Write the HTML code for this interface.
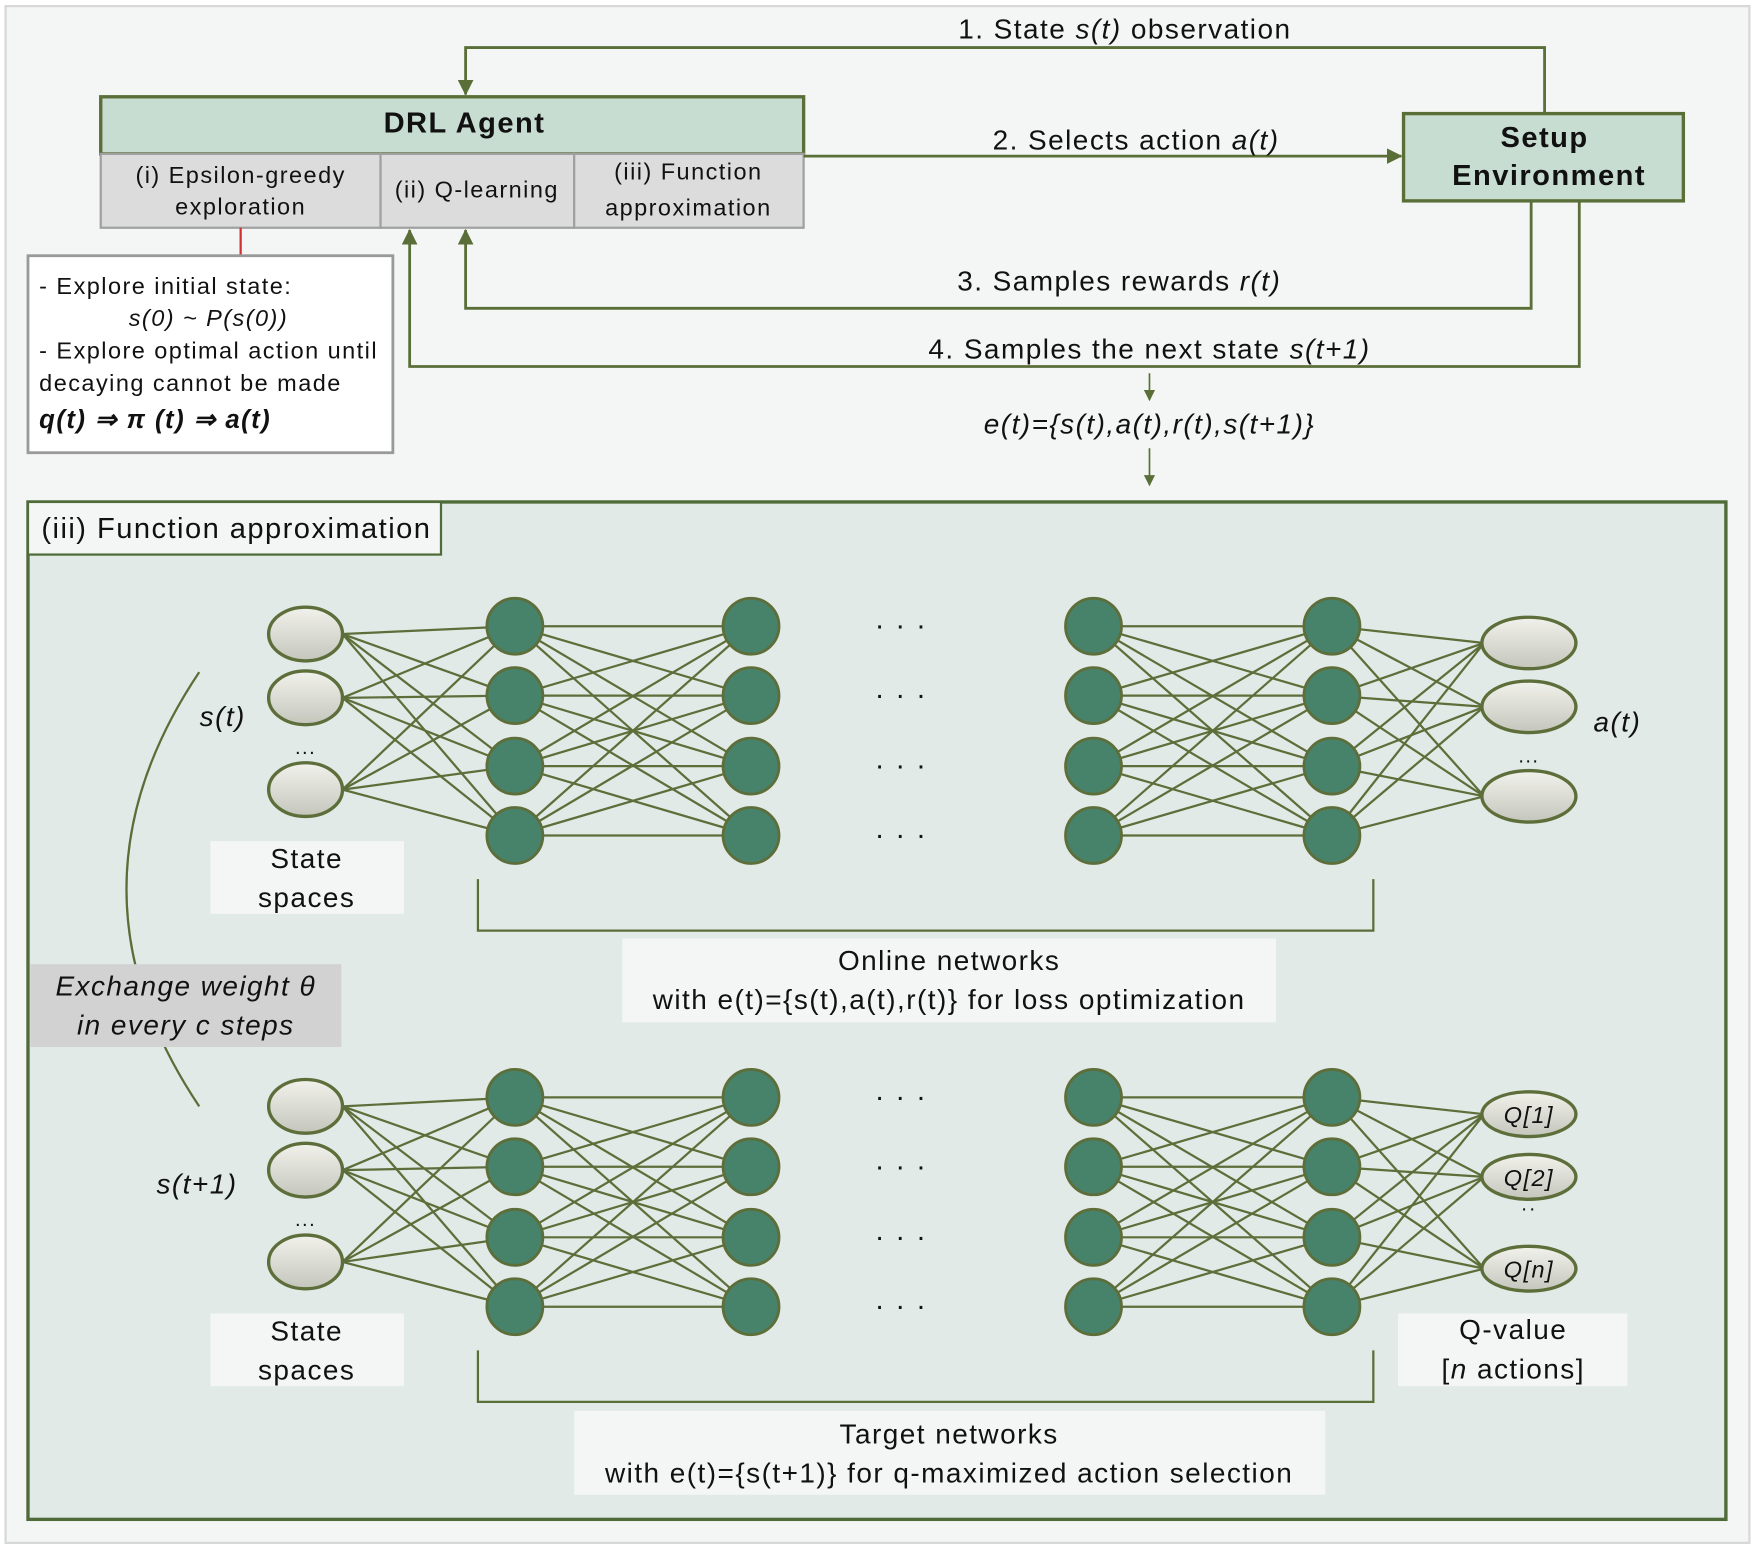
<!DOCTYPE html>
<html><head><meta charset="utf-8"><style>
html,body{margin:0;padding:0;background:#fff}
svg{display:block}
text{font-family:"Liberation Sans",sans-serif;fill:#111;letter-spacing:1.3px}
.i{font-style:italic}
</style></head><body>
<svg id="s" width="1755" height="1549" viewBox="0 0 1568 1383" xmlns="http://www.w3.org/2000/svg">
<defs>
<marker id="ar" markerWidth="10" markerHeight="10" refX="9" refY="5" orient="auto" markerUnits="userSpaceOnUse" viewBox="0 0 10 10"><path d="M0,0 L10,5 L0,10 z" fill="#5a6e38"/></marker>
<marker id="ar2" markerWidth="14" markerHeight="14" refX="13" refY="7" orient="auto" markerUnits="userSpaceOnUse" viewBox="0 0 14 14"><path d="M0,0 L14,7 L0,14 z" fill="#5a6e38"/></marker>
<linearGradient id="eg" x1="0" y1="0" x2="0" y2="1"><stop offset="0" stop-color="#f2f2ec"/><stop offset="1" stop-color="#c4c6bc"/></linearGradient>
</defs>
<rect x="0" y="0" width="1568" height="1383" fill="#fff"/>
<rect x="5" y="5" width="1558" height="1373" fill="#f4f6f5" stroke="#d8d8d8" stroke-width="2"/>
<rect x="90" y="86" width="628" height="51" fill="#c7ddd1" stroke="#5a6e38" stroke-width="3"/>
<text x="415" y="118" font-size="26" font-weight="bold" text-anchor="middle">DRL Agent</text>
<rect x="90" y="137" width="250" height="66" fill="#dcdcdc" stroke="#a0a0a0" stroke-width="2"/>
<rect x="340" y="137" width="173" height="66" fill="#dcdcdc" stroke="#a0a0a0" stroke-width="2"/>
<rect x="513" y="137" width="205" height="66" fill="#dcdcdc" stroke="#a0a0a0" stroke-width="2"/>
<text x="215" y="163" font-size="21" text-anchor="middle">(i) Epsilon-greedy</text>
<text x="215" y="191" font-size="21" text-anchor="middle">exploration</text>
<text x="426" y="176" font-size="21" text-anchor="middle">(ii) Q-learning</text>
<text x="615" y="160" font-size="21" text-anchor="middle">(iii) Function</text>
<text x="615" y="192" font-size="21" text-anchor="middle">approximation</text>
<rect x="1254" y="101" width="250" height="78" fill="#c7ddd1" stroke="#5a6e38" stroke-width="3"/>
<text x="1380" y="131" font-size="26" font-weight="bold" text-anchor="middle">Setup</text>
<text x="1384" y="165" font-size="26" font-weight="bold" text-anchor="middle">Environment</text>
<g stroke="#5a6e38" stroke-width="2.5" fill="none">
<path d="M1380,101 V42 H416 V84" marker-end="url(#ar2)"/>
<path d="M718,139 H1252" marker-end="url(#ar2)"/>
<path d="M1368,179 V275 H416 V205" marker-end="url(#ar2)"/>
<path d="M1411,179 V327 H366 V205" marker-end="url(#ar2)"/>
<path d="M1027,333 V357" stroke-width="1.5" marker-end="url(#ar)"/>
<path d="M1027,400 V433" stroke-width="1.5" marker-end="url(#ar)"/>
</g>
<text x="1005" y="34" font-size="25" text-anchor="middle">1. State <tspan class="i">s(t)</tspan> observation</text>
<text x="1015" y="133" font-size="25" text-anchor="middle">2. Selects action <tspan class="i">a(t)</tspan></text>
<text x="1000" y="259" font-size="25" text-anchor="middle">3. Samples rewards <tspan class="i">r(t)</tspan></text>
<text x="1027" y="320" font-size="25" text-anchor="middle">4. Samples the next state <tspan class="i">s(t+1)</tspan></text>
<text x="1027" y="387" font-size="25" class="i" text-anchor="middle">e(t)={s(t),a(t),r(t),s(t+1)}</text>
<line x1="215" y1="203" x2="215" y2="228" stroke="#d03030" stroke-width="2"/>
<rect x="25" y="228" width="326" height="176" fill="#fff" stroke="#999" stroke-width="2.5"/>
<text x="35" y="262" font-size="21">- Explore initial state:</text>
<text x="115" y="291" font-size="21" class="i">s(0) ~ P(s(0))</text>
<text x="35" y="320" font-size="21">- Explore optimal action until</text>
<text x="35" y="349" font-size="21">decaying cannot be made</text>
<text x="35" y="382" font-size="23" font-weight="bold" class="i">q(t) ⇒ π (t)  ⇒ a(t)</text>
<rect x="25" y="448" width="1517" height="909" fill="#e1eae6" stroke="#4e6b38" stroke-width="3"/>
<rect x="25" y="448" width="369" height="47" fill="#f4f6f5" stroke="#4e6b38" stroke-width="2"/>
<text x="37" y="480" font-size="26">(iii) Function approximation</text>
<path d="M178,600 Q48,794 178,988" fill="none" stroke="#5a6e38" stroke-width="2"/>
<rect x="27" y="861" width="278" height="74" fill="#d2d2d2"/>
<text x="166" y="889" font-size="25" class="i" text-anchor="middle">Exchange weight θ</text>
<text x="166" y="924" font-size="25" class="i" text-anchor="middle">in every c steps</text>
<g id="nets"></g>
<g stroke="#5a6e38" stroke-width="2" fill="none">
<path d="M427,785 V831 H1227 V785"/>
<path d="M427,1206 V1252 H1227 V1206"/>
</g>
<rect x="188" y="751" width="173" height="65" fill="#f4f6f5"/>
<text x="274" y="775" font-size="25" text-anchor="middle">State</text>
<text x="274" y="810" font-size="25" text-anchor="middle">spaces</text>
<rect x="188" y="1173" width="173" height="65" fill="#f4f6f5"/>
<text x="274" y="1197" font-size="25" text-anchor="middle">State</text>
<text x="274" y="1232" font-size="25" text-anchor="middle">spaces</text>
<rect x="556" y="838" width="584" height="75" fill="#f4f6f5"/>
<text x="848" y="866" font-size="25" text-anchor="middle">Online networks</text>
<text x="848" y="901" font-size="25" text-anchor="middle">with e(t)={s(t),a(t),r(t)} for loss optimization</text>
<rect x="513" y="1260" width="671" height="75" fill="#f4f6f5"/>
<text x="848" y="1289" font-size="25" text-anchor="middle">Target networks</text>
<text x="848" y="1324" font-size="25" text-anchor="middle">with e(t)={s(t+1)} for q-maximized action selection</text>
<rect x="1249" y="1173" width="205" height="65" fill="#f4f6f5"/>
<text x="1352" y="1196" font-size="25" text-anchor="middle">Q-value</text>
<text x="1352" y="1231" font-size="25" text-anchor="middle">[<tspan class="i">n</tspan> actions]</text>
<text x="199" y="648" font-size="25" class="i" text-anchor="middle">s(t)</text>
<text x="176" y="1066" font-size="25" class="i" text-anchor="middle">s(t+1)</text>
<text x="1445" y="653" font-size="25" class="i" text-anchor="middle">a(t)</text>
</svg>
<script>
var NS="http://www.w3.org/2000/svg",g=document.getElementById("nets");
function el(t,a,txt){var e=document.createElementNS(NS,t);for(var k in a)e.setAttribute(k,a[k]);if(txt)e.textContent=txt;g.appendChild(e);return e;}
function net(off,inY,outY,q){
 var H=[559,621,684,746].map(function(y){return y+off});
 var X=[460,671,977,1190];
 var ln={stroke:"#5e6e3a","stroke-width":2};
 inY.forEach(function(a){H.forEach(function(b){el("line",Object.assign({x1:306,y1:a,x2:X[0],y2:b},ln))})});
 H.forEach(function(a){H.forEach(function(b){el("line",Object.assign({x1:X[0],y1:a,x2:X[1],y2:b},ln));el("line",Object.assign({x1:X[2],y1:a,x2:X[3],y2:b},ln))})});
 H.forEach(function(a){outY.forEach(function(b){el("line",Object.assign({x1:X[3],y1:a,x2:1326,y2:b},ln))})});
 inY.forEach(function(y){el("ellipse",{cx:273,cy:y,rx:33,ry:24,fill:"url(#eg)",stroke:"#5e6e3a","stroke-width":3})});
 X.forEach(function(x){H.forEach(function(y){el("circle",{cx:x,cy:y,r:25,fill:"#47826a",stroke:"#5e6e3a","stroke-width":2.5})})});
 H.forEach(function(y){el("text",{x:805,y:y+8,"font-size":26,"text-anchor":"middle"},"· · ·")});
 el("text",{x:273,y:inY[1]+50,"font-size":18,"text-anchor":"middle"},"...");
 outY.forEach(function(y,i){
  if(q){el("ellipse",{cx:1366,cy:y,rx:42,ry:20,fill:"url(#eg)",stroke:"#5e6e3a","stroke-width":3});
   el("text",{x:1366,y:y+8,"font-size":21,"font-style":"italic","text-anchor":"middle"},q[i]);}
  else el("ellipse",{cx:1366,cy:y,rx:42,ry:23,fill:"url(#eg)",stroke:"#5e6e3a","stroke-width":3});
 });
 el("text",{x:1366,y:q?outY[1]+34:outY[1]+50,"font-size":18,"text-anchor":"middle"},q?"··":"...");
}
net(0,[566,623,705],[574,631,711]);
net(421,[988,1045,1127],[995,1051,1133],["Q[1]","Q[2]","Q[n]"]);
</script>
</body></html>
